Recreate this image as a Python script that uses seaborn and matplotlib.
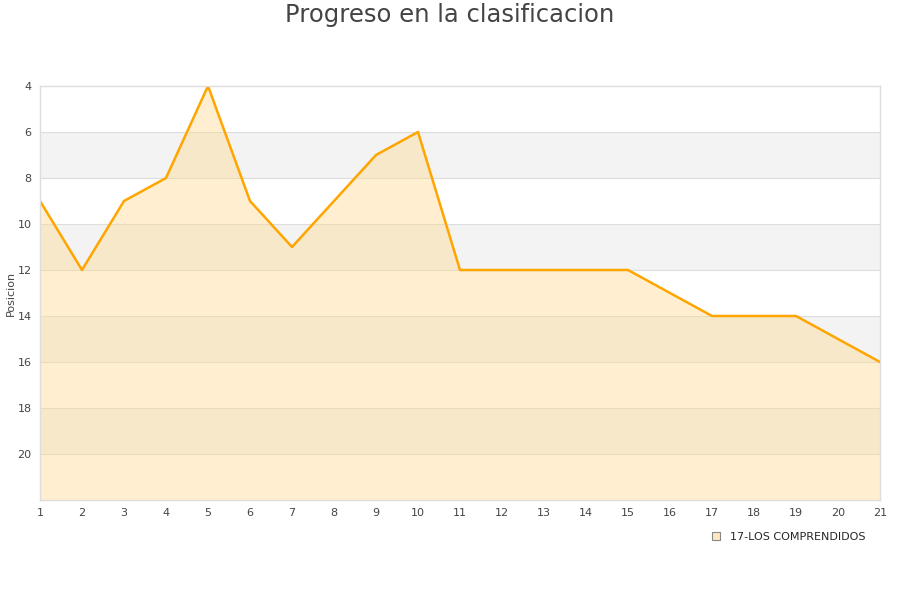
import matplotlib
matplotlib.use("Agg")
import matplotlib.pyplot as plt
import seaborn as sns
import pandas as pd
from matplotlib.patches import Patch

jornadas = list(range(1, 22))
posiciones = [9, 12, 9, 8, 4, 9, 11, 9, 7, 6, 12, 12, 12, 12, 12, 13, 14, 14, 14, 15, 16]
equipo = "17-LOS COMPRENDIDOS"
y_ticks = [4, 6, 8, 10, 12, 14, 16, 18, 20]

df = pd.DataFrame({"Jornada": jornadas, "Posicion": posiciones})

sns.set_style("white")
plt.rcParams['font.family'] = ['DejaVu Sans']

fig = plt.figure(figsize=(9, 6), dpi=100)
ax = fig.add_axes([40/900, 1-500/600, 840/900, 414/600])

# alternating bands
for lo in range(4, 22, 4):
    ax.axhspan(lo + 2, lo + 4, color="#f3f3f3", zorder=0, lw=0)
for y in range(6, 22, 2):
    ax.axhline(y, color="#dddddd", lw=0.8, zorder=0.5)

ax.fill_between(df["Jornada"], df["Posicion"], 22, color="#ffd98a", alpha=0.4, lw=0, zorder=1)
sns.lineplot(data=df, x="Jornada", y="Posicion", ax=ax, color="#ffa500", lw=1.8, zorder=2)

ax.set_xlim(1, 21)
ax.set_ylim(22, 4)
ax.set_xticks(jornadas)
ax.set_yticks(y_ticks)
ax.tick_params(axis="both", labelsize=8, colors="#444444", length=0, pad=6)
ax.set_xlabel("")
ax.set_ylabel("Posicion", fontsize=8, color="#444444")
ax.yaxis.set_label_coords(-24/840, 0.5)
for s in ax.spines.values():
    s.set_color("#dddddd")
    s.set_linewidth(1)

fig.text(0.5, 1-15/600, "Progreso en la clasificacion", fontsize=17.5, color="#444444",
         ha="center", va="center")

leg = fig.legend(handles=[Patch(facecolor="#ffe8c0", edgecolor="#888888", lw=0.8, label=equipo)],
                 loc="center", bbox_to_anchor=(789/900, 1-537/600), frameon=False,
                 fontsize=8, handlelength=0.7, handleheight=0.7, handletextpad=0.9)

fig.savefig("out.png", dpi=100)
